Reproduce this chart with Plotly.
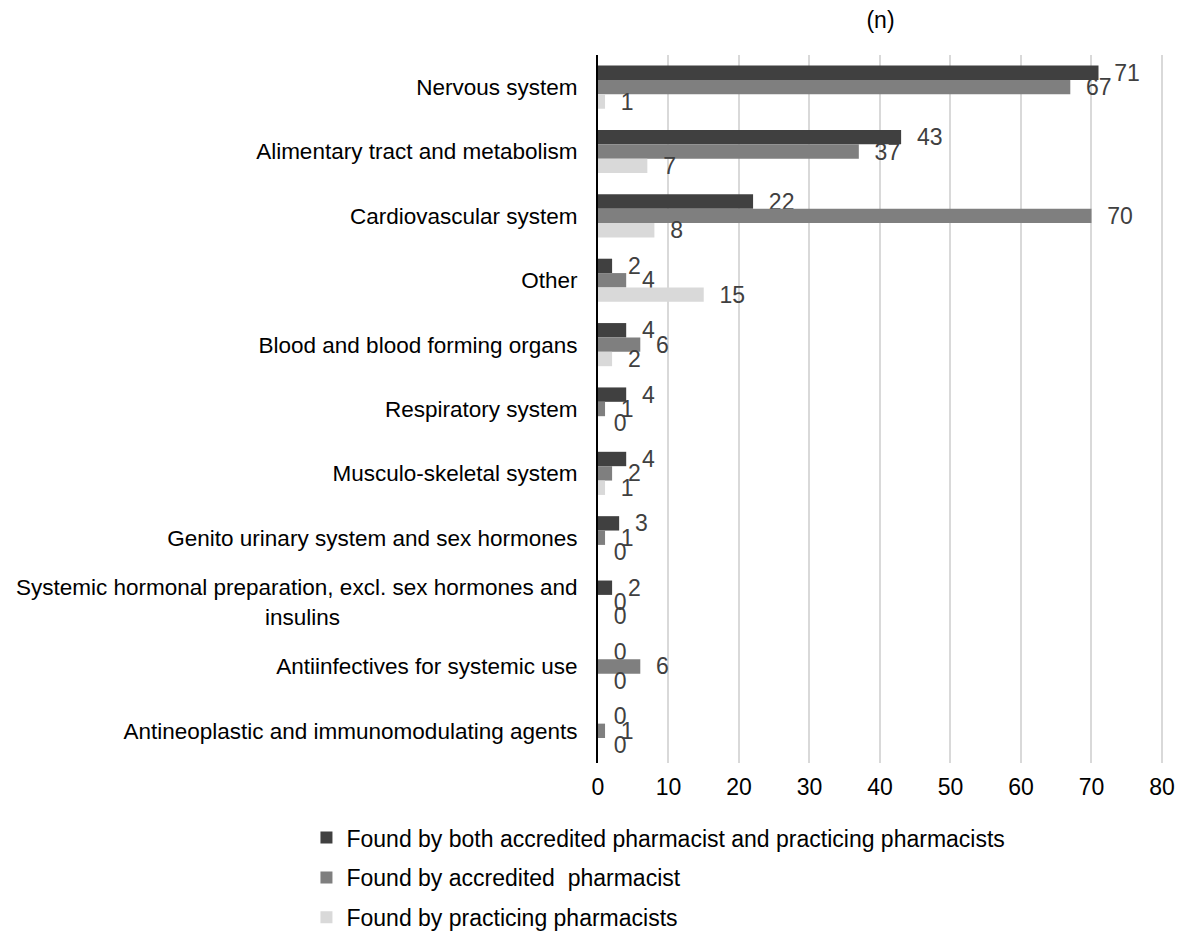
import plotly.graph_objects as go

categories = [
    "Nervous system",
    "Alimentary tract and metabolism",
    "Cardiovascular system",
    "Other",
    "Blood and blood forming organs",
    "Respiratory system",
    "Musculo-skeletal system",
    "Genito urinary system and sex hormones",
    "Systemic hormonal preparation, excl. sex hormones and<br>insulins" + "\u00a0" * 38,
    "Antiinfectives for systemic use",
    "Antineoplastic and immunomodulating agents",
]
both_vals = [71, 43, 22, 2, 4, 4, 4, 3, 2, 0, 0]
accredited_vals = [67, 37, 70, 4, 6, 1, 2, 1, 0, 6, 1]
practicing_vals = [1, 7, 8, 15, 2, 0, 1, 0, 0, 0, 0]

series_names = [
    "Found by both accredited pharmacist and practicing pharmacists",
    "Found by accredited  pharmacist",
    "Found by practicing pharmacists",
]
series_colors = ["#404040", "#7f7f7f", "#d9d9d9"]
series_vals = [both_vals, accredited_vals, practicing_vals]
x_ticks = [0, 10, 20, 30, 40, 50, 60, 70, 80]

FONT = "Liberation Sans, Arial, sans-serif"
FS = 23

fig = go.Figure()
for name, color, vals in zip(series_names, series_colors, series_vals):
    fig.add_trace(go.Bar(
        y=categories, x=vals, orientation="h", name=name,
        marker=dict(color=color, line=dict(width=0)),
        text=vals, texttemplate="\u00a0\u00a0%{x}", textposition="outside",
        constraintext="none", cliponaxis=False,
        textfont=dict(family=FONT, size=FS, color="#404040"),
        legendgroup=name,
    ))

fig.update_layout(
    width=1200, height=940,
    barmode="group", bargap=0.33, bargroupgap=0,
    plot_bgcolor="white", paper_bgcolor="white",
    margin=dict(l=590, r=45, t=47, b=185, autoexpand=False),
    font=dict(family=FONT, size=FS, color="#000000"),
    title=dict(text="(n)", x=0.5, xref="paper", xanchor="center",
               y=1 - 12 / 940, yanchor="middle",
               font=dict(family=FONT, size=FS, color="#000000")),
    xaxis=dict(range=[0, 80.15], tickvals=x_ticks, showgrid=True,
               gridcolor="#d9d9d9", gridwidth=2, zeroline=False,
               showline=False, ticks="", ticklabelstandoff=8,
               automargin=False,
               tickfont=dict(family=FONT, size=FS, color="#000000")),
    yaxis=dict(autorange="reversed", showline=True, linecolor="#000000",
               linewidth=2, ticks="", showgrid=False, ticklabelstandoff=14,
               automargin=False,
               tickfont=dict(family=FONT, size=22.5, color="#000000")),
    legend=dict(orientation="v", x=-0.516, xanchor="left", y=-0.075,
                yanchor="top", traceorder="grouped", tracegroupgap=7,
                font=dict(family=FONT, size=FS, color="#000000"),
                bgcolor="rgba(0,0,0,0)"),
    showlegend=True,
)

fig.write_html("out.html")
